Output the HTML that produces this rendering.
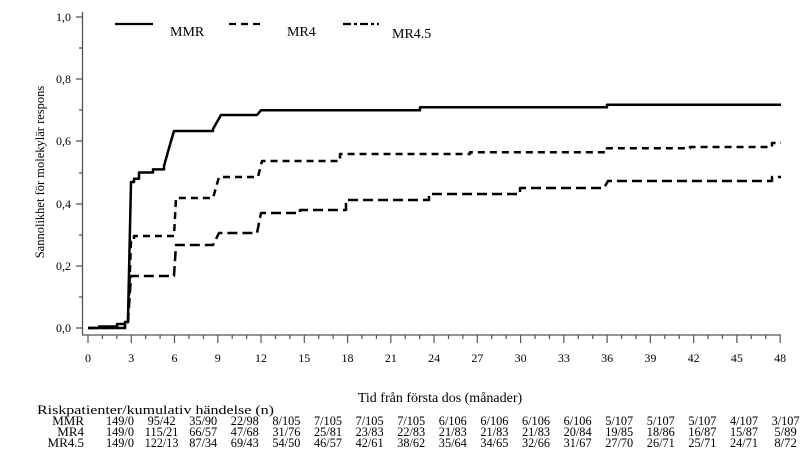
<!DOCTYPE html>
<html><head><meta charset="utf-8"><style>
body{margin:0;background:#fff}
svg{display:block}
text{font-family:"Liberation Serif",serif;fill:#000}
</style></head><body>
<svg width="811" height="469" viewBox="0 0 811 469">
<g stroke="#555" stroke-width="1.3" fill="none">
<path d="M82.5,12 V335 H781"/>
<path d="M76,17 H82 M76,79 H82 M76,141 H82 M76,204 H82 M76,266 H82 M76,328 H82"/>
<path d="M79,48 H82 M79,110 H82 M79,173 H82 M79,235 H82 M79,297 H82"/>
</g>
<g stroke="#555" stroke-width="1.2" id="xt"></g>
<g font-size="12" text-anchor="end">
<text x="71" y="21">1,0</text><text x="71" y="83">0,8</text><text x="71" y="145">0,6</text>
<text x="71" y="208">0,4</text><text x="71" y="270">0,2</text><text x="71" y="332">0,0</text>
</g>
<g font-size="12" text-anchor="middle" id="xl"></g>
<text transform="translate(44,172) rotate(-90)" font-size="12.5" text-anchor="middle">Sannolikhet för molekylär respons</text>
<text x="440" y="402" font-size="14" text-anchor="middle">Tid från första dos (månader)</text>
<g stroke="#000" stroke-width="2.2">
<line x1="115" y1="24" x2="153" y2="24"/>
<line x1="229" y1="24" x2="261" y2="24" stroke-dasharray="7,5"/>
<line x1="343" y1="24" x2="379" y2="24" stroke-dasharray="8,3,3,3"/>
</g>
<g font-size="14"><text x="170" y="36">MMR</text><text x="287" y="36">MR4</text><text x="392" y="38">MR4.5</text></g>
<g fill="none" stroke="#000" stroke-width="2.5" stroke-linejoin="round">
<path d="M88,328 H99 V326.5 H117 V324 H125 V322 H128 V318 L131,182 H134 V178.7 H139 V172.5 H153 V169.4 H164 V166 L169,148 L174,131 H213 V129 L221,115 H257 L261,110.3 H420 V107.2 H607 V104.7 H781"/>
<path stroke-dasharray="7,5" d="M88,328 H125 V322 H128 L131,242 H134 V236 H174 L176,198 H213 L219,177 H258 L262,161 H340 V154 H470 V152.3 H607 V148.3 H690 V147 H772 V143 H781"/>
<path stroke-dasharray="10,5" d="M88,328 H125 V322 H128 L131,276 H174 L176,245 H213 L219,233 H257 L261,213 H300 V210 H346 V200 H429 V194 H520 V188 H604 L608,181 H772 V177 H781"/>
</g>
<text x="37" y="414" font-size="12.5" textLength="237" lengthAdjust="spacingAndGlyphs">Riskpatienter/kumulativ händelse (n)</text>
<g font-size="13" text-anchor="end">
<text x="84" y="425">MMR</text><text x="84" y="436">MR4</text><text x="84" y="447">MR4.5</text>
</g>
<g font-size="13" text-anchor="middle" id="rt"></g>
</svg>
<script>
var ns="http://www.w3.org/2000/svg";
var xt=document.getElementById('xt'),xl=document.getElementById('xl'),rt=document.getElementById('rt');
for(var t=0;t<=48;t++){var x=88+t*14.42;var l=document.createElementNS(ns,'line');l.setAttribute('x1',x);l.setAttribute('x2',x);l.setAttribute('y1',335);l.setAttribute('y2',t%3==0?343:339);xt.appendChild(l);
if(t%3==0){var tx=document.createElementNS(ns,'text');tx.setAttribute('x',x);tx.setAttribute('y',362);tx.textContent=t;xl.appendChild(tx);}}
var rows=[["149/0","95/42","35/90","22/98","8/105","7/105","7/105","7/105","6/106","6/106","6/106","6/106","5/107","5/107","5/107","4/107","3/107"],
["149/0","115/21","66/57","47/68","31/76","25/81","23/83","22/83","21/83","21/83","21/83","20/84","19/85","18/86","16/87","15/87","5/89"],
["149/0","122/13","87/34","69/43","54/50","46/57","42/61","38/62","35/64","34/65","32/66","31/67","27/70","26/71","25/71","24/71","8/72"]];
rows.forEach(function(r,j){r.forEach(function(v,i){var tx=document.createElementNS(ns,'text');tx.setAttribute('x',120+i*41.6);tx.setAttribute('y',425+j*11);tx.setAttribute('textLength',v.length*5.6);tx.setAttribute('lengthAdjust','spacingAndGlyphs');tx.textContent=v;rt.appendChild(tx);});});
</script>
</body></html>
